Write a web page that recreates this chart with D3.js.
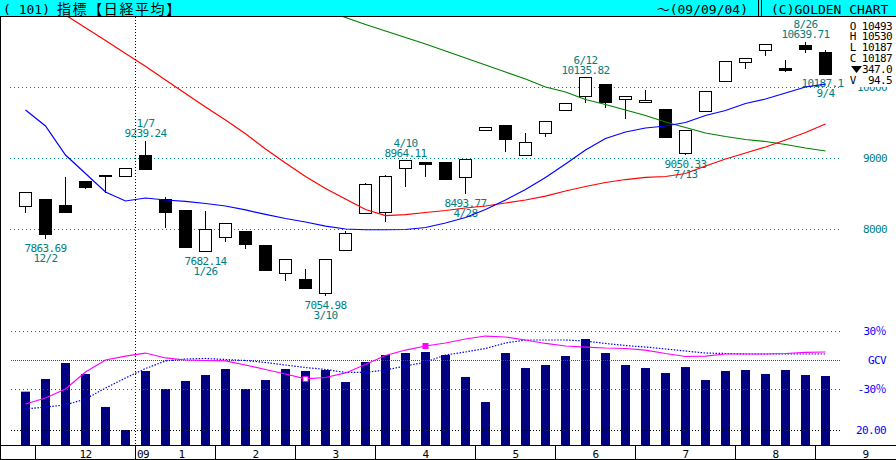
<!DOCTYPE html>
<html>
<head>
<meta charset="utf-8">
<script src="https://cdn.jsdelivr.net/npm/d3@7"></script>
<style>
body { margin: 0; background: #fff; }
svg text { font-family: "DejaVu Sans Mono", "Noto Sans CJK JP", monospace; }
</style>
</head>
<body>
<div id="chart"></div>
<script>
// weekly data, Nikkei 225 (week start dates)
var weeks = ["11/24","12/1","12/8","12/15","12/22","12/29",
  "1/5","1/12","1/19","1/26","2/2","2/9","2/16","2/23","3/2","3/9","3/16","3/23","3/30",
  "4/6","4/13","4/20","4/27","5/4","5/11","5/18","5/25","6/1","6/8","6/15","6/22","6/29",
  "7/6","7/13","7/20","7/27","8/3","8/10","8/17","8/24","8/31"];

var opens  = [8318,8413,8342,8680,8753,8746,9046,8423,8268,7690,7887,7976,7765,7380,7286,7099,7708,8225,8239,8859,8934,
  8934,8727,9389,9455,9046,9352,9676,9873,10046,9831,9790,9694,9061,9662,10085,10352,10525,10268,10586,10493];
var highs  = [8521,8413,8741,8680,8760,8860,9239.24,8459,8268,8258,8090,7976,7765,7570,7441,7575,7980,8650,8765,8964.11,8934,
  8934,8990,9440,9455,9356,9522,9775,10135.82,10046,9877,9962,9694,9400,9948,10357,10412,10597,10385,10639.71,10530];
var lows   = [8225,7863.69,8234,8563,8516,8746,8836,8023,7741,7682.14,7825,7718,7416,7276,7173,7054.98,7708,8225,8107,8600,8741,
  8708,8493.77,9389,9093,9046,9304,9676,9783,9704,9549,9790,9287,9050.33,9662,10085,10253,10441,10211,10479,10187.11];
var closes = [8521,7924,8235,8588,8740,8859,8840,8230,7745,7994,8076,7779,7416,7568,7173,7569,7945,8627,8750,8964.11,8908,
  8708,8977,9433,9265,9226,9522,9768,10135.82,9786,9877,9816,9287,9395,9945,10357,10412,10597,10234,10534.14,10187.11];

// moving averages (13, 26, 52 weeks)
var ma13 = [9680,9455,9046,8785,8525,8399,8441,8413,8392,8363,8328,8273,8210,8152,8103,8046,8004,7994,7994,7997,8025,
  8089,8166,8279,8413,8561,8730,8920,9117,9279,9370,9427,9455,9504,9603,9673,9772,9835,9920,10004,10046];
var ma26 = [11385,11201,11018,10839,10659,10477,10296,10103,9911,9723,9539,9346,9131,8934,8742,8575,8427,8279,8194,8208,8237,
  8265,8300,8328,8370,8413,8468,8539,8603,8659,8701,8730,8744,8786,8892,8990,9075,9159,9258,9363,9483];
var ma52 = [null,null,null,null,null,null,null,null,null,null,null,null,null,null,11187,11089,10983,10885,10793,10701,10610,
  10511,10413,10314,10215,10117,10004,9934,9828,9758,9680,9603,9511,9434,9356,9307,9265,9237,9194,9145,9103];

// volume and volume ratio lines (%)
var volumes = [73.1,90.4,112.3,97.3,52.1,20.5,101.4,76.7,87.7,95.9,104.1,76.7,89.0,104.1,101.4,102.7,86.3,113.7,123.3,126.0,127.4,
  123.3,93.2,58.9,126.0,105.5,109.6,121.9,145.2,126.0,109.6,105.5,98.6,106.8,89.0,101.4,102.7,97.3,102.7,95.9,94.5];
var gcvShort = [-45.5,-39.3,-30.0,-12.4,0,4.1,7.2,2.1,0,-0.5,-1.0,-5.2,-9.8,-14.5,-19.6,-18.1,-13.4,-4.7,4.7,10.3,14.5,
  17.6,21.7,24.8,23.8,20.7,17.1,14.5,13.4,12.4,11.9,10.3,6.7,3.6,4.1,6.2,6.2,6.2,6.7,7.8,8.3];
var gcvLong = [-50.7,-48.6,-46.5,-40.3,-29.0,-18.6,-8.8,-1.0,1.0,1.6,0.5,-0.5,-2.6,-5.2,-7.8,-9.8,-12.9,-12.9,-10.3,-6.2,-2.1,
  5.2,8.3,11.9,17.6,20.7,20.7,20.7,19.6,17.1,15.0,13.4,11.4,9.3,7.2,6.7,6.2,6.2,6.2,6.2,6.2];

var priceTicks = [8000, 9000, 10000];
var pctTicks = [30, 0, -30];
var pctLabels = ["30％", "GCV", "-30％"];
var volTicks = [20];

var monthLabels = ["12", "1", "2", "3", "4", "5", "6", "7", "8", "9"];
var monthStart = [1, 6, 10, 14, 18, 23, 27, 31, 36, 40];
var yearIdx = 6, yearLabel = "09";

var hiIdx = [6, 19, 28, 39];
var hiDate = ["1/7", "4/10", "6/12", "8/26"];
var loIdx = [1, 9, 15, 22, 33, 40];
var loDate = ["12/2", "1/26", "3/10", "4/28", "7/13", "9/4"];

var svgWidth = 896, svgHeight = 460;
var teal = "#008080";

var svg = d3.select("#chart").append("svg")
  .attr("width", svgWidth)
  .attr("height", svgHeight);

svg.append("rect").attr("width", svgWidth).attr("height", svgHeight).attr("fill", "#fff");

// scales
var x = d3.scalePoint().domain(weeks).range([25.5, 825.5]);
var step = x.step();
var yP = d3.scaleLinear().domain([8000, 10000]).range([229.3, 87.3]);
var yV = d3.scaleLinear().domain([0, 100]).range([445, 372]);
var yR = d3.scaleLinear().domain([-30, 30]).range([389, 331]);
function px(v) { return Math.floor(v) + 0.5; }

// header
svg.append("rect").attr("x", 0).attr("y", 0).attr("width", svgWidth).attr("height", 17).attr("fill", "#00ffff");
svg.append("line").attr("x1", 0).attr("x2", svgWidth).attr("y1", 16.5).attr("y2", 16.5).attr("stroke", "#000");
[758.5, 761.5].forEach(function(lx) {
  svg.append("line").attr("x1", lx).attr("x2", lx).attr("y1", 0).attr("y2", 17).attr("stroke", "#000");
});
svg.append("text").attr("x", 3).attr("y", 13.5).attr("font-size", 13).text("( 101)");
svg.append("text").attr("x", 57).attr("y", 14).attr("font-size", 14).attr("letter-spacing", 1.6)
  .attr("font-family", "Noto Sans CJK JP").text("指標【日経平均】");
svg.append("text").attr("x", 748).attr("y", 13.5).attr("font-size", 13).attr("text-anchor", "end").text("～(09/09/04)");
svg.append("text").attr("x", 771).attr("y", 13.5).attr("font-size", 13).text("(C)GOLDEN CHART");

// price panel
svg.append("clipPath").attr("id", "clipP").append("rect")
  .attr("x", 2).attr("y", 17).attr("width", 843).attr("height", 310);
var price = svg.append("g").attr("clip-path", "url(#clipP)");

price.selectAll(".pgrid").data(priceTicks).enter().append("line")
  .attr("x1", 10).attr("x2", 841)
  .attr("y1", d => px(yP(d))).attr("y2", d => px(yP(d)))
  .attr("stroke", teal).attr("stroke-dasharray", "1,3");

// year separator
svg.append("line").attr("x1", x(weeks[yearIdx]) - step / 2).attr("x2", x(weeks[yearIdx]) - step / 2)
  .attr("y1", 17).attr("y2", 446).attr("stroke", "#000").attr("stroke-dasharray", "1,2");

// candles
var candles = price.selectAll(".candle").data(weeks).enter().append("g");
candles.append("line")
  .attr("x1", d => x(d)).attr("x2", d => x(d))
  .attr("y1", (d, i) => yP(highs[i])).attr("y2", (d, i) => yP(lows[i]))
  .attr("stroke", "#000").attr("shape-rendering", "crispEdges");
candles.append("rect")
  .attr("x", d => x(d) - 6).attr("width", 12)
  .attr("y", (d, i) => px(yP(Math.max(opens[i], closes[i]))))
  .attr("height", (d, i) => Math.max(1, px(yP(Math.min(opens[i], closes[i]))) - px(yP(Math.max(opens[i], closes[i])))))
  .attr("fill", (d, i) => closes[i] >= opens[i] ? "#fff" : "#000")
  .attr("stroke", "#000").attr("shape-rendering", "crispEdges");

// high / low annotations
hiIdx.forEach(function(k, j) {
  var hy = yP(highs[k]);
  price.append("text").attr("x", x(weeks[k])).attr("y", hy - 14).attr("text-anchor", "middle")
    .attr("font-size", 11).attr("letter-spacing", -0.6).attr("fill", teal).text(hiDate[j]);
  price.append("text").attr("x", x(weeks[k])).attr("y", hy - 4).attr("text-anchor", "middle")
    .attr("font-size", 11).attr("letter-spacing", -0.6).attr("fill", teal).text(highs[k].toFixed(2));
});
loIdx.forEach(function(k, j) {
  var ly = yP(lows[k]);
  price.append("text").attr("x", x(weeks[k])).attr("y", ly + 13).attr("text-anchor", "middle")
    .attr("font-size", 11).attr("letter-spacing", -0.6).attr("fill", teal).text(lows[k].toFixed(2));
  price.append("text").attr("x", x(weeks[k])).attr("y", ly + 23).attr("text-anchor", "middle")
    .attr("font-size", 11).attr("letter-spacing", -0.6).attr("fill", teal).text(loDate[j]);
});

// moving averages
var maLine = d3.line()
  .defined(d => d != null)
  .x((d, i) => x(weeks[i]))
  .y(d => yP(d));
[[ma52, "#008000"], [ma26, "#ff0000"], [ma13, "#0000ff"]].forEach(function(s) {
  price.append("path").datum(s[0]).attr("d", maLine)
    .attr("fill", "none").attr("stroke", s[1]).attr("stroke-width", 1.2);
});

// price labels
var pAxis = svg.append("g").attr("transform", "translate(887,0)")
  .call(d3.axisLeft(yP).tickValues(priceTicks).tickSize(0).tickPadding(0).tickFormat(d3.format("d")));
pAxis.select(".domain").remove();
pAxis.selectAll("text").attr("fill", teal).attr("font-size", 11).attr("letter-spacing", -0.6)
  .attr("font-family", "DejaVu Sans Mono");

// OHLC box
svg.append("rect").attr("x", 845).attr("y", 18).attr("width", 51).attr("height", 69).attr("fill", "#fff");
var last = weeks.length - 1;
var chg = closes[last] - closes[last - 1];
var info = ["O " + Math.round(opens[last]), "H " + Math.round(highs[last]), "L " + Math.round(lows[last]),
  "C " + Math.round(closes[last]), Math.abs(chg).toFixed(1), "V " + d3.format("5.1f")(volumes[last])];
info.forEach(function(t, j) {
  svg.append("text").attr("x", 892).attr("y", 29.5 + j * 10.8).attr("text-anchor", "end")
    .attr("font-size", 11).attr("letter-spacing", -0.6).style("white-space", "pre").text(t);
});
svg.append("path").attr("d", chg < 0 ? "M851,66L862,66L856.5,73Z" : "M851,73L862,73L856.5,66Z").attr("fill", "#000");

// volume panel
svg.selectAll(".vbar").data(weeks).enter().append("rect")
  .attr("x", d => x(d) - 4.5).attr("width", 9)
  .attr("y", (d, i) => yV(volumes[i])).attr("height", (d, i) => yV(0) - yV(volumes[i]))
  .attr("fill", "#000080");

svg.selectAll(".rgrid").data(pctTicks).enter().append("line")
  .attr("x1", 11).attr("x2", 841)
  .attr("y1", d => px(yR(d))).attr("y2", d => px(yR(d)))
  .attr("stroke", "#008000").attr("stroke-dasharray", d => d === 0 ? "1,1" : "1,3");
svg.selectAll(".vgrid").data(volTicks).enter().append("line")
  .attr("x1", 11).attr("x2", 841)
  .attr("y1", d => px(yV(d))).attr("y2", d => px(yV(d)))
  .attr("stroke", "#000").attr("stroke-dasharray", "1,2");

var rLine = d3.line().x((d, i) => x(weeks[i])).y(d => yR(d));
svg.append("path").datum(gcvLong).attr("d", rLine).attr("fill", "none")
  .attr("stroke", "#0000ff").attr("stroke-width", 1.2).attr("stroke-dasharray", "1.5,1.5");
svg.append("path").datum(gcvShort).attr("d", rLine).attr("fill", "none")
  .attr("stroke", "#ff00ff").attr("stroke-width", 1.2);
svg.append("rect").attr("x", x(weeks[14]) - 2.5).attr("y", yR(gcvShort[14]) - 2.5).attr("width", 5).attr("height", 5)
  .attr("fill", "#fff").attr("stroke", "#ff00ff");
svg.append("rect").attr("x", x(weeks[20]) - 3).attr("y", yR(gcvShort[20]) - 3).attr("width", 6).attr("height", 6)
  .attr("fill", "#ff00ff");

var rAxis = svg.append("g").attr("transform", "translate(886,0)")
  .call(d3.axisLeft(yR).tickValues(pctTicks).tickSize(0).tickPadding(0).tickFormat((d, i) => pctLabels[i]));
rAxis.select(".domain").remove();
rAxis.selectAll("text").attr("fill", "#0000ff").attr("font-size", 11).attr("letter-spacing", -0.6)
  .attr("font-family", "DejaVu Sans Mono, Noto Sans CJK JP");
var vAxis = svg.append("g").attr("transform", "translate(886,0)")
  .call(d3.axisLeft(yV).tickValues(volTicks).tickSize(0).tickPadding(0).tickFormat(d3.format(".2f")));
vAxis.select(".domain").remove();
vAxis.selectAll("text").attr("fill", "#0000ff").attr("font-size", 11).attr("letter-spacing", -0.6)
  .attr("font-family", "DejaVu Sans Mono");

// bottom month row
svg.append("line").attr("x1", 0).attr("x2", svgWidth).attr("y1", 445.5).attr("y2", 445.5).attr("stroke", "#000");
svg.append("line").attr("x1", 0).attr("x2", svgWidth).attr("y1", 459.5).attr("y2", 459.5).attr("stroke", "#000");
svg.append("line").attr("x1", 0.5).attr("x2", 0.5).attr("y1", 17).attr("y2", 460).attr("stroke", "#000");
monthStart.forEach(function(k, j) {
  var bx = x(weeks[k]) - step / 2;
  var nx = j < monthStart.length - 1 ? x(weeks[monthStart[j + 1]]) - step / 2 : bx + 5 * step;
  svg.append("line").attr("x1", bx).attr("x2", bx).attr("y1", 446).attr("y2", 459)
    .attr("stroke", "#000");
  var shift = k === yearIdx ? 6 : 0;
  svg.append("text").attr("x", (bx + nx) / 2 + shift).attr("y", 457.5).attr("text-anchor", "middle")
    .attr("font-size", 11).attr("letter-spacing", -0.6).text(monthLabels[j]);
});
svg.append("text").attr("x", x(weeks[yearIdx]) - step / 2 + 1.5).attr("y", 457.5)
  .attr("font-size", 11).attr("letter-spacing", -0.6).text(yearLabel);
</script>
</body>
</html>
